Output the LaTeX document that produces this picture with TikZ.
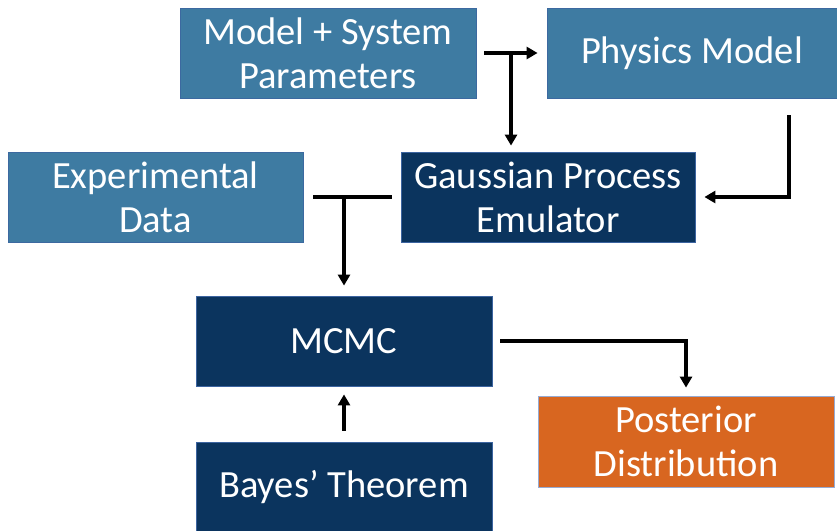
\documentclass[tikz,border=0pt]{standalone}
\usepackage{fontspec}
\setmainfont{Carlito}
\usetikzlibrary{arrows.meta}
\definecolor{midblue}{RGB}{62,123,162}
\definecolor{midborder}{RGB}{60,105,160}
\definecolor{navy}{RGB}{11,52,94}
\definecolor{navyborder}{RGB}{60,100,160}
\definecolor{orangebox}{RGB}{216,102,32}
\definecolor{orangeborder}{RGB}{150,170,210}
\tikzset{
  box/.style={rectangle, minimum width=296pt, minimum height=90pt, inner sep=0pt,
    text=white, align=center, font=\fontsize{38.5}{44}\selectfont, line width=0.8pt},
  lightbox/.style={box, fill=midblue, draw=midborder},
  darkbox/.style={box, fill=navy, draw=navyborder},
  orbox/.style={box, fill=orangebox, draw=orangeborder},
  conn/.style={line width=3.2pt, draw=black},
  arr/.style={conn, -{Triangle[length=11pt,width=12pt]}}
}
\begin{document}
\begin{tikzpicture}[x=1pt,y=-1pt]
\useasboundingbox (0,0) rectangle (837,530);
\node[lightbox] (mp) at (328,53) {Model + System\\Parameters};
\node[lightbox, minimum width=290pt] (phys) at (692,53) {Physics Model};
\node[darkbox, minimum width=294pt] (gpe) at (548,197) {Gaussian Process\\Emulator};
\node[lightbox, minimum width=295pt] (exp) at (155.5,197) {Experimental\\Data};
\node[darkbox] (mcmc) at (344,341) {MCMC};
\node[darkbox] (bayes) at (344,487) {Bayes’ Theorem};
\node[orbox, minimum height=91pt] (post) at (686,441.5) {Posterior\\Distribution};
\coordinate (j1) at (511,53);
\coordinate (j2) at (344,197);
\coordinate (p1) at (789,115);
% connectors
\draw[arr, shorten <=8pt, shorten >=9pt] (mp.east) -- (phys.west);
\draw[arr, shorten >=6pt] (j1) -- (j1 |- gpe.north);
\draw[arr, shorten >=9pt] (p1) |- (gpe.east);
\draw[conn, shorten <=10pt, shorten >=9pt] (exp.east) -- (gpe.west);
\draw[arr, shorten >=10pt] (j2) -- (mcmc.north);
\draw[arr, shorten <=8pt, shorten >=8pt] (mcmc.east) -| (post.north);
\draw[arr, shorten <=11pt, shorten >=8pt] (bayes.north) -- (mcmc.south);
\end{tikzpicture}
\end{document}
